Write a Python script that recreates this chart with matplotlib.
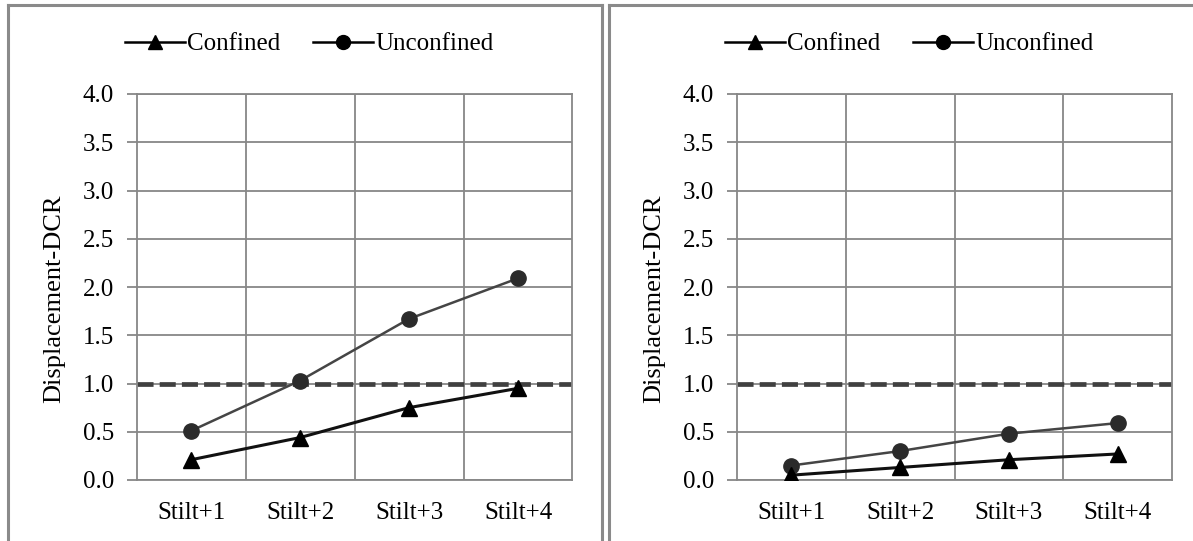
import matplotlib
matplotlib.use("Agg")
import matplotlib.pyplot as plt
from matplotlib.lines import Line2D

plt.rcParams['font.family'] = ['Liberation Serif', 'DejaVu Serif']

# Data
categories = ["Stilt+1", "Stilt+2", "Stilt+3", "Stilt+4"]
left_confined = [0.21, 0.44, 0.75, 0.95]
left_unconfined = [0.51, 1.03, 1.67, 2.09]
right_confined = [0.05, 0.13, 0.21, 0.27]
right_unconfined = [0.15, 0.30, 0.48, 0.59]
limit_value = 1.0
y_ticks = [0.0, 0.5, 1.0, 1.5, 2.0, 2.5, 3.0, 3.5, 4.0]
y_label = "Displacement-DCR"

W, H = 1193, 541
fig = plt.figure(figsize=(W / 100, H / 100), dpi=100)

GRID = "#878787"
FS = 18


def px_box(x0, x1, ytop, ybot):
    return [x0 / W, 1 - ybot / H, (x1 - x0) / W, (ybot - ytop) / H]


def draw_panel(rect, confined, unconfined, legend_x):
    ax = fig.add_axes(rect)
    x = list(range(1, len(categories) + 1))
    ax.set_xlim(0.5, len(categories) + 0.5)
    ax.set_ylim(0, 4.0)

    ax.set_xticks(x)
    ax.set_xticklabels(categories, fontsize=FS)
    ax.set_xticks([v + 0.5 for v in x[:-1]], minor=True)
    ax.set_yticks(y_ticks)
    ax.set_yticklabels([f"{v:.1f}" for v in y_ticks], fontsize=FS)
    ax.tick_params(axis='x', which='both', length=0, pad=16)
    ax.tick_params(axis='y', length=7.2, width=1.3, color=GRID, pad=9)
    ax.grid(axis='y', which='major', color=GRID, lw=1.3)
    ax.grid(axis='x', which='minor', color=GRID, lw=1.3)
    ax.set_axisbelow(True)
    for s in ax.spines.values():
        s.set_color(GRID)
        s.set_linewidth(1.3)

    ax.axhline(limit_value, color="#404040", lw=3.4, ls=(0, (3.4, 1.3)), zorder=2)

    ax.plot(x, unconfined, color="#454545", lw=1.8, marker='o', ms=11,
            mfc="#2b2b2b", mec="#2b2b2b", label="Unconfined", zorder=3)
    ax.plot(x, confined, color="#111111", lw=2.2, marker='^', ms=11,
            mfc="#000000", mec="#000000", label="Confined", zorder=4)

    ax.set_ylabel(y_label, fontsize=19)
    ax.yaxis.set_label_coords(-0.165, 0.469)

    handles = [
        Line2D([], [], color="#000000", lw=1.8, marker='^', ms=10),
        Line2D([], [], color="#000000", lw=1.8, marker='o', ms=10),
    ]
    ax.legend(handles, ["Confined", "Unconfined"], loc='center',
              bbox_to_anchor=(legend_x / W, 1 - 44 / H),
              bbox_transform=fig.transFigure, ncol=2, frameon=False,
              fontsize=FS, handlelength=2.4, handletextpad=0.1,
              columnspacing=1.3)
    return ax


draw_panel(px_box(136.7, 572.5, 94, 480), left_confined, left_unconfined, 309)
draw_panel(px_box(736.7, 1172.3, 94, 480), right_confined, right_unconfined, 909)

# Panel frames
FRAME = "#8a8a8a"
lw_frame = 2.2


def fig_line(xs, ys):
    fig.add_artist(Line2D([v / W for v in xs], [1 - v / H for v in ys],
                          color=FRAME, lw=lw_frame, transform=fig.transFigure,
                          solid_capstyle='projecting'))


fig_line([8.3, 8.3], [H + 5, 4.7])
fig_line([8.3, 601.5], [4.7, 4.7])
fig_line([601.5, 601.5], [4.7, H + 5])
fig_line([608.5, 608.5], [H + 5, 4.7])
fig_line([608.5, W + 5], [4.7, 4.7])

fig.savefig("out.png", dpi=100)
